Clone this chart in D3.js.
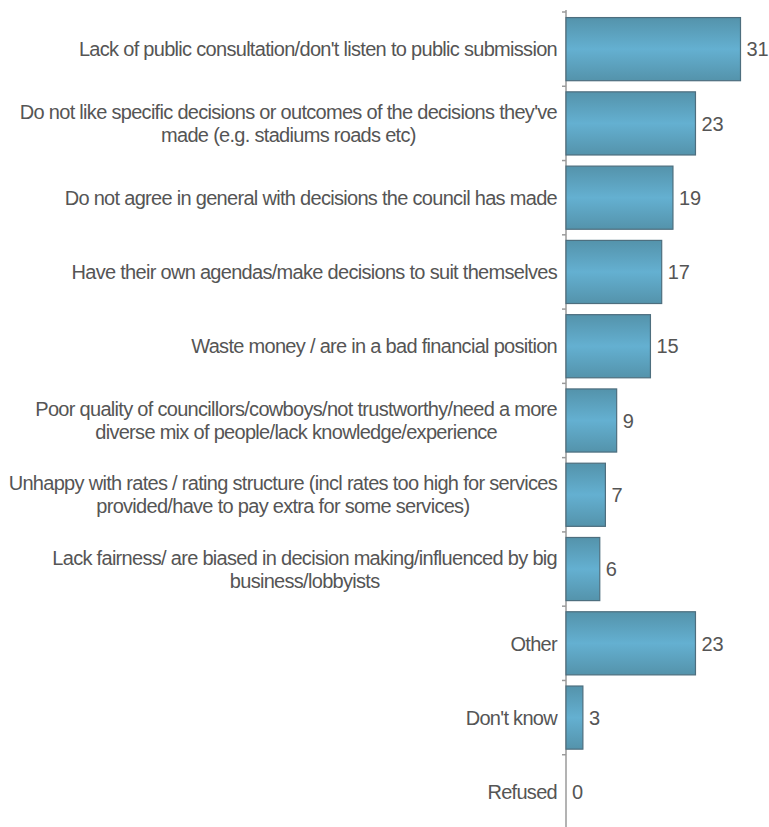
<!DOCTYPE html>
<html><head><meta charset="utf-8">
<script src="https://cdn.jsdelivr.net/npm/d3@7"></script>
<style>body{margin:0;background:#fff}svg{display:block}</style>
</head><body>
<script>
const categories = [
  ["Lack of public consultation/don't listen to public submission"],
  ["Do not like specific decisions or outcomes of the decisions they've","made (e.g. stadiums roads etc)"],
  ["Do not agree in general with decisions the council has made"],
  ["Have their own agendas/make decisions to suit themselves"],
  ["Waste money / are in a bad financial position"],
  ["Poor quality of councillors/cowboys/not trustworthy/need a more","diverse mix of people/lack knowledge/experience"],
  ["Unhappy with rates / rating structure (incl rates too high for services","provided/have to pay extra for some services)"],
  ["Lack fairness/ are biased in decision making/influenced by big","business/lobbyists"],
  ["Other"],
  ["Don't know"],
  ["Refused"]
];
const values = [31,23,19,17,15,9,7,6,23,3,0];

const W = 769, H = 827;
const svg = d3.select("body").append("svg").attr("width", W).attr("height", H);
const defs = svg.append("defs");
const grad = defs.append("linearGradient").attr("id","barg").attr("x1",0).attr("y1",0).attr("x2",0).attr("y2",1);
grad.append("stop").attr("offset","0%").attr("stop-color","#5493ab");
grad.append("stop").attr("offset","50%").attr("stop-color","#64b0d1");
grad.append("stop").attr("offset","100%").attr("stop-color","#5493ab");

const idx = d3.range(categories.length);
const x = d3.scaleLinear().domain([0, 31]).range([566, 740.5]);
const y = d3.scaleBand().domain(idx).range([12, 829]).paddingInner(0.15).paddingOuter(0.075);

// axis
const axisG = svg.append("g").attr("transform", "translate(566,0)");
axisG.append("line").attr("x1",0).attr("x2",0).attr("y1",10).attr("y2",H).attr("stroke","#9a9a9a").attr("stroke-width",1.5);
const step = y.step();
const tickYs = d3.range(categories.length + 1).map(i => 12 + i * step);
axisG.selectAll("line.tick").data(tickYs).join("line").attr("class","tick")
  .attr("x1",-4).attr("x2",0).attr("y1",d=>d).attr("y2",d=>d)
  .attr("stroke","#9a9a9a").attr("stroke-width",1.5);

// bars
svg.selectAll("rect.bar").data(idx).join("rect").attr("class","bar")
  .attr("x", x(0)).attr("y", i => y(i))
  .attr("width", i => x(values[i]) - x(0))
  .attr("height", y.bandwidth())
  .attr("fill","url(#barg)")
  .attr("stroke","#4d6e7e").attr("stroke-width", i => values[i] > 0 ? 1.2 : 0);

// value labels
svg.selectAll("text.val").data(idx).join("text").attr("class","val")
  .attr("x", i => x(values[i]) + 6)
  .attr("y", i => y(i) + y.bandwidth()/2)
  .attr("dy","0.36em")
  .attr("font-family","Liberation Sans, Arial, sans-serif")
  .attr("font-size", 20).attr("fill","#555")
  .text(i => values[i]);

// category labels
const labG = svg.append("g");
idx.forEach(i => {
  const lines = categories[i];
  const cy = y(i) + y.bandwidth()/2;
  const lh = 23;
  const t = labG.append("text")
    .attr("font-family","Liberation Sans, Arial, sans-serif")
    .attr("font-size", 20).attr("letter-spacing", -0.7).attr("fill","#555");
  const tsp = lines.map((ln, k) => t.append("tspan").text(ln)
      .attr("y", cy + (k - (lines.length-1)/2) * lh).attr("dy","0.36em"));
  const widths = tsp.map(s => s.node().getComputedTextLength());
  const maxW = d3.max(widths);
  const cx = 557 - maxW/2;
  tsp.forEach(s => s.attr("x", cx).attr("text-anchor","middle"));
});
</script>
</body></html>
